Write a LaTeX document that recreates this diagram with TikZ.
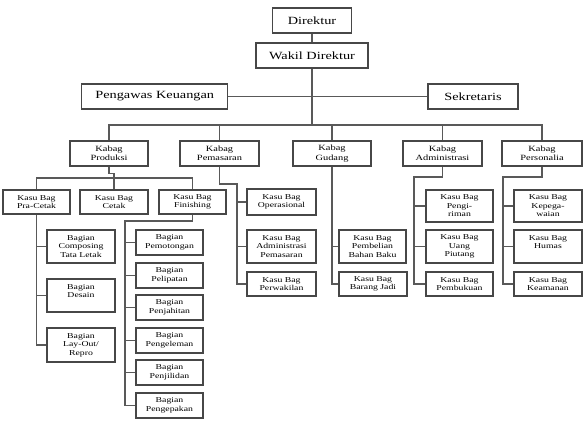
\documentclass[tikz,border=0pt]{standalone}
\usepackage{fontspec}
\setmainfont[FakeStretch=1.3]{Liberation Serif}
\begin{document}
\begin{tikzpicture}[x=1pt,y=-1pt,
  bx/.style={draw=black!72, line width=1.1pt, fill=white, inner sep=0pt, align=center, font=\fontsize{7.5}{8.5}\selectfont},
  topbox/.style={bx, font=\fontsize{11}{13}\selectfont, minimum height=25pt},
  kb/.style={bx, font=\fontsize{8}{9.5}\selectfont, minimum height=25pt},
  ln/.style={draw=black!65, line width=1.2pt}]
\useasboundingbox (0,0) rectangle (585,435);

% top levels
\node[topbox, minimum width=79pt] (dir) at (312,20.5) {Direktur};
\node[topbox, minimum width=112pt] (wak) at (312,55.5) {Wakil Direktur};
\node[topbox, minimum width=146pt] (pk) at (154.7,96.5) {Pengawas Keuangan};
\node[topbox, minimum width=90pt] (sek) at (473,96.5) {Sekretaris};

% kabag
\node[kb, minimum width=78pt] (prod) at (109,153.5) {Kabag\\Produksi};
\node[kb, minimum width=79pt] (pem) at (219.5,153.5) {Kabag\\Pemasaran};
\node[kb, minimum width=78pt] (gud) at (332,153.5) {Kabag\\Gudang};
\node[kb, minimum width=79pt] (adm) at (442.5,153.5) {Kabag\\Administrasi};
\node[kb, minimum width=80pt] (pers) at (542,153.5) {Kabag\\Personalia};

\coordinate (hub) at (312,125);
\draw[ln] (dir) -- (wak);
\draw[ln] (wak) -- (hub);
\draw[ln] (pk) -- (sek);
\draw[ln] (prod.north) |- (hub) -| (pers.north);
\foreach \n in {pem,gud,adm} \draw[ln] (\n.north) -- (\n.north |- hub);

% produksi
\node[bx, minimum width=67pt, minimum height=24pt] (pc) at (36.5,202) {Kasu Bag\\Pra-Cetak};
\node[bx, minimum width=68pt, minimum height=24pt] (ct) at (114,202) {Kasu Bag\\Cetak};
\node[bx, minimum width=67pt, minimum height=24pt] (fn) at (192.5,202) {Kasu Bag\\Finishing};
\coordinate (pbar) at (114,178);
\draw[ln] (prod.south) -- ++(0,7) -| (ct.north);
\draw[ln] (pc.north) |- (pbar) -| (fn.north);

\node[bx, minimum width=68pt, minimum height=33pt] (bc) at (81,246.5) {Bagian\\Composing\\Tata Letak};
\node[bx, minimum width=68pt, minimum height=33pt] (bd) at (81,295.5) {Bagian\\Desain\\\mbox{}};
\node[bx, minimum width=68pt, minimum height=34pt] (bl) at (81,345) {Bagian\\Lay-Out/\\Repro};
\draw[ln] (pc.south) |- (bl.west);
\foreach \n in {bc,bd} \draw[ln] (\n.west) -- (\n.west -| pc.south);

\coordinate (fs) at (125,221);
\node[bx, minimum width=67pt, minimum height=25pt] (b1) at (169.5,242.5) {Bagian\\Pemotongan};
\node[bx, minimum width=67pt, minimum height=25pt] (b2) at (169.5,275.5) {Bagian\\Pelipatan};
\node[bx, minimum width=67pt, minimum height=25pt] (b3) at (169.5,307.5) {Bagian\\Penjahitan};
\node[bx, minimum width=67pt, minimum height=25pt] (b4) at (169.5,340.5) {Bagian\\Pengeleman};
\node[bx, minimum width=67pt, minimum height=25pt] (b5) at (169.5,372.5) {Bagian\\Penjilidan};
\node[bx, minimum width=67pt, minimum height=25pt] (b6) at (169.5,405.5) {Bagian\\Pengepakan};
\draw[ln] (fn.south) |- (fs) |- (b6.west);
\foreach \n in {b1,b2,b3,b4,b5} \draw[ln] (\n.west) -- (\n.west -| fs);

% pemasaran
\coordinate (ms) at (237,184);
\node[bx, minimum width=69pt, minimum height=26pt] (o1) at (281.5,202) {Kasu Bag\\Operasional};
\node[bx, minimum width=69pt, minimum height=33pt] (o2) at (281.5,246.5) {Kasu Bag\\Administrasi\\Pemasaran};
\node[bx, minimum width=69pt, minimum height=24pt] (o3) at (281.5,284) {Kasu Bag\\Perwakilan};
\draw[ln] (pem.south) |- (ms) |- (o3.west);
\foreach \n in {o1,o2} \draw[ln] (\n.west) -- (\n.west -| ms);

% gudang
\node[bx, minimum width=67pt, minimum height=33pt] (g1) at (372.5,246.5) {Kasu Bag\\Pembelian\\Bahan Baku};
\node[bx, minimum width=68pt, minimum height=24pt] (g2) at (373,284) {Kasu Bag\\Barang Jadi};
\draw[ln] (gud.south) |- (g2.west);
\draw[ln] (g1.west) -- (g1.west -| gud.south);

% administrasi
\coordinate (as) at (414,177);
\node[bx, minimum width=67pt, minimum height=32pt] (a1) at (459.5,206) {Kasu Bag\\Pengi-\\riman};
\node[bx, minimum width=67pt, minimum height=33pt] (a2) at (459.5,246.5) {Kasu Bag\\Uang\\Piutang};
\node[bx, minimum width=67pt, minimum height=24pt] (a3) at (459.5,284) {Kasu Bag\\Pembukuan};
\draw[ln] (adm.south) |- (as) |- (a3.west);
\foreach \n in {a1,a2} \draw[ln] (\n.west) -- (\n.west -| as);

% personalia
\coordinate (ps) at (503,177);
\node[bx, minimum width=68pt, minimum height=32pt] (p1) at (548,206) {Kasu Bag\\Kepega-\\waian};
\node[bx, minimum width=68pt, minimum height=33pt] (p2) at (548,246.5) {Kasu Bag\\Humas\\\mbox{}};
\node[bx, minimum width=68pt, minimum height=24pt] (p3) at (548,284) {Kasu Bag\\Keamanan};
\draw[ln] (pers.south) |- (ps) |- (p3.west);
\foreach \n in {p1,p2} \draw[ln] (\n.west) -- (\n.west -| ps);
\end{tikzpicture}
\end{document}
